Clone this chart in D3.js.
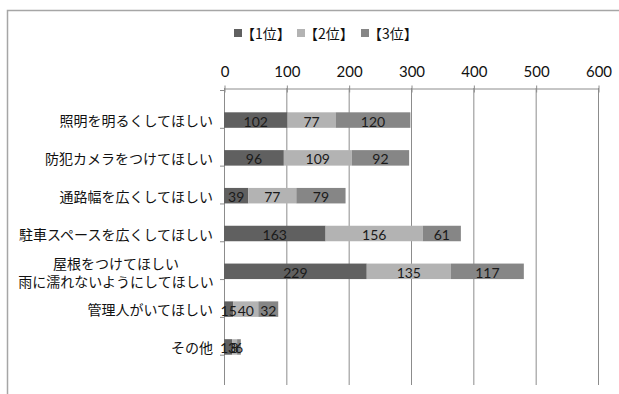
<!DOCTYPE html>
<html>
<head>
<meta charset="utf-8">
<script src="https://cdn.jsdelivr.net/npm/d3@7"></script>
<style>
  html, body { margin: 0; padding: 0; background: #fff; }
  svg { display: block; }
</style>
</head>
<body>
<svg id="chart" width="619" height="394"></svg>
<script>
// Survey answers: requests for the parking/bicycle area, counted by 1st/2nd/3rd choice
const categories = [
  ["照明を明るくしてほしい"],
  ["防犯カメラをつけてほしい"],
  ["通路幅を広くしてほしい"],
  ["駐車スペースを広くしてほしい"],
  ["屋根をつけてほしい", "雨に濡れないようにしてほしい"],
  ["管理人がいてほしい"],
  ["その他"]
];
const seriesNames = ["【1位】", "【2位】", "【3位】"];
const rank1 = [102, 96, 39, 163, 229, 15, 13];
const rank2 = [77, 109, 77, 156, 135, 40, 8];
const rank3 = [120, 92, 79, 61, 117, 32, 6];
const tickValues = [0, 100, 200, 300, 400, 500, 600];

const colors = ["#606060", "#b3b3b3", "#868686"];
const jpFont = "'Noto Sans CJK JP', 'Noto Sans', sans-serif";
const numFont = "Lato, 'Liberation Sans', sans-serif";

const svg = d3.select("#chart");

// outer chart frame
svg.append("path")
  .attr("d", "M7.5,394 L7.5,10.5 L619,10.5")
  .attr("fill", "none")
  .attr("stroke", "#a6a6a6")
  .attr("stroke-width", 1.5);

const x = d3.scaleLinear().domain([0, 600]).range([224, 598]);
const y = d3.scaleBand().domain(d3.range(categories.length)).range([90, 377]).padding(0.59);
const axisY = 88;
const bottomY = 385;

// vertical gridlines
svg.append("g").selectAll("line")
  .data(tickValues.slice(1))
  .join("line")
  .attr("x1", d => x(d) + 0.5).attr("x2", d => x(d) + 0.5)
  .attr("y1", axisY).attr("y2", bottomY)
  .attr("stroke", "#8c8c8c").attr("stroke-width", 1);

// value axis along the top
const xAxis = d3.axisTop(x).tickValues(tickValues).tickSize(0).tickPadding(12);
const gx = svg.append("g").attr("transform", `translate(0.5,${axisY + 0.5})`).call(xAxis);
gx.select(".domain").attr("stroke", "#8c8c8c");
gx.selectAll("text")
  .attr("font-family", numFont).attr("font-size", 15).attr("fill", "#111");
gx.selectAll(".tick").append("line")
  .attr("y1", -3).attr("y2", 4)
  .attr("stroke", "#8c8c8c");

// category axis
svg.append("line")
  .attr("x1", x(0) + 0.5).attr("x2", x(0) + 0.5)
  .attr("y1", axisY).attr("y2", bottomY)
  .attr("stroke", "#8c8c8c");
const step = y.step();
svg.append("g").selectAll("line")
  .data(d3.range(categories.length + 1))
  .join("line")
  .attr("x1", x(0) - 4).attr("x2", x(0))
  .attr("y1", i => 90 + i * step + 0.5).attr("y2", i => 90 + i * step + 0.5)
  .attr("stroke", "#8c8c8c");

// category labels
const labels = svg.append("g");
categories.forEach((lines, i) => {
  const cy = y(i) + y.bandwidth() / 2;
  if (lines.length === 1) {
    labels.append("text")
      .attr("x", 213).attr("y", cy)
      .attr("text-anchor", "end").attr("dominant-baseline", "central")
      .attr("font-family", jpFont).attr("font-size", 14).attr("fill", "#111")
      .text(lines[0]);
  } else {
    lines.forEach((t, k) => {
      labels.append("text")
        .attr("x", 116).attr("y", cy + 1 + (k - 0.5) * 18)
        .attr("text-anchor", "middle").attr("dominant-baseline", "central")
        .attr("font-family", jpFont).attr("font-size", 14).attr("fill", "#111")
        .text(t);
    });
  }
});

// stacked bars
const table = categories.map((c, i) => ({ i, r0: rank1[i], r1: rank2[i], r2: rank3[i] }));
const stack = d3.stack().keys(["r0", "r1", "r2"])(table);
const bars = svg.append("g");
stack.forEach((layer, s) => {
  bars.append("g").selectAll("rect")
    .data(layer)
    .join("rect")
    .attr("x", d => x(d[0]))
    .attr("width", d => x(d[1]) - x(d[0]))
    .attr("y", d => y(d.data.i))
    .attr("height", y.bandwidth())
    .attr("fill", colors[s]);
});
stack.forEach((layer, s) => {
  bars.append("g").selectAll("text")
    .data(layer)
    .join("text")
    .attr("x", d => (x(d[0]) + x(d[1])) / 2)
    .attr("y", d => y(d.data.i) + y.bandwidth() / 2 + 1)
    .attr("text-anchor", "middle").attr("dominant-baseline", "central")
    .attr("font-family", numFont).attr("font-size", 14).attr("fill", "#1a1a1a")
    .text(d => d[1] - d[0]);
});

// legend
const legendX = [234, 297, 361];
const legend = svg.append("g");
seriesNames.forEach((name, s) => {
  legend.append("rect")
    .attr("x", legendX[s]).attr("y", 29)
    .attr("width", 8).attr("height", 8)
    .attr("fill", colors[s]);
  legend.append("text")
    .attr("x", legendX[s] + 7).attr("y", 33)
    .attr("dominant-baseline", "central")
    .attr("font-family", jpFont).attr("font-size", 14).attr("fill", "#111")
    .text(name);
});
</script>
</body>
</html>
